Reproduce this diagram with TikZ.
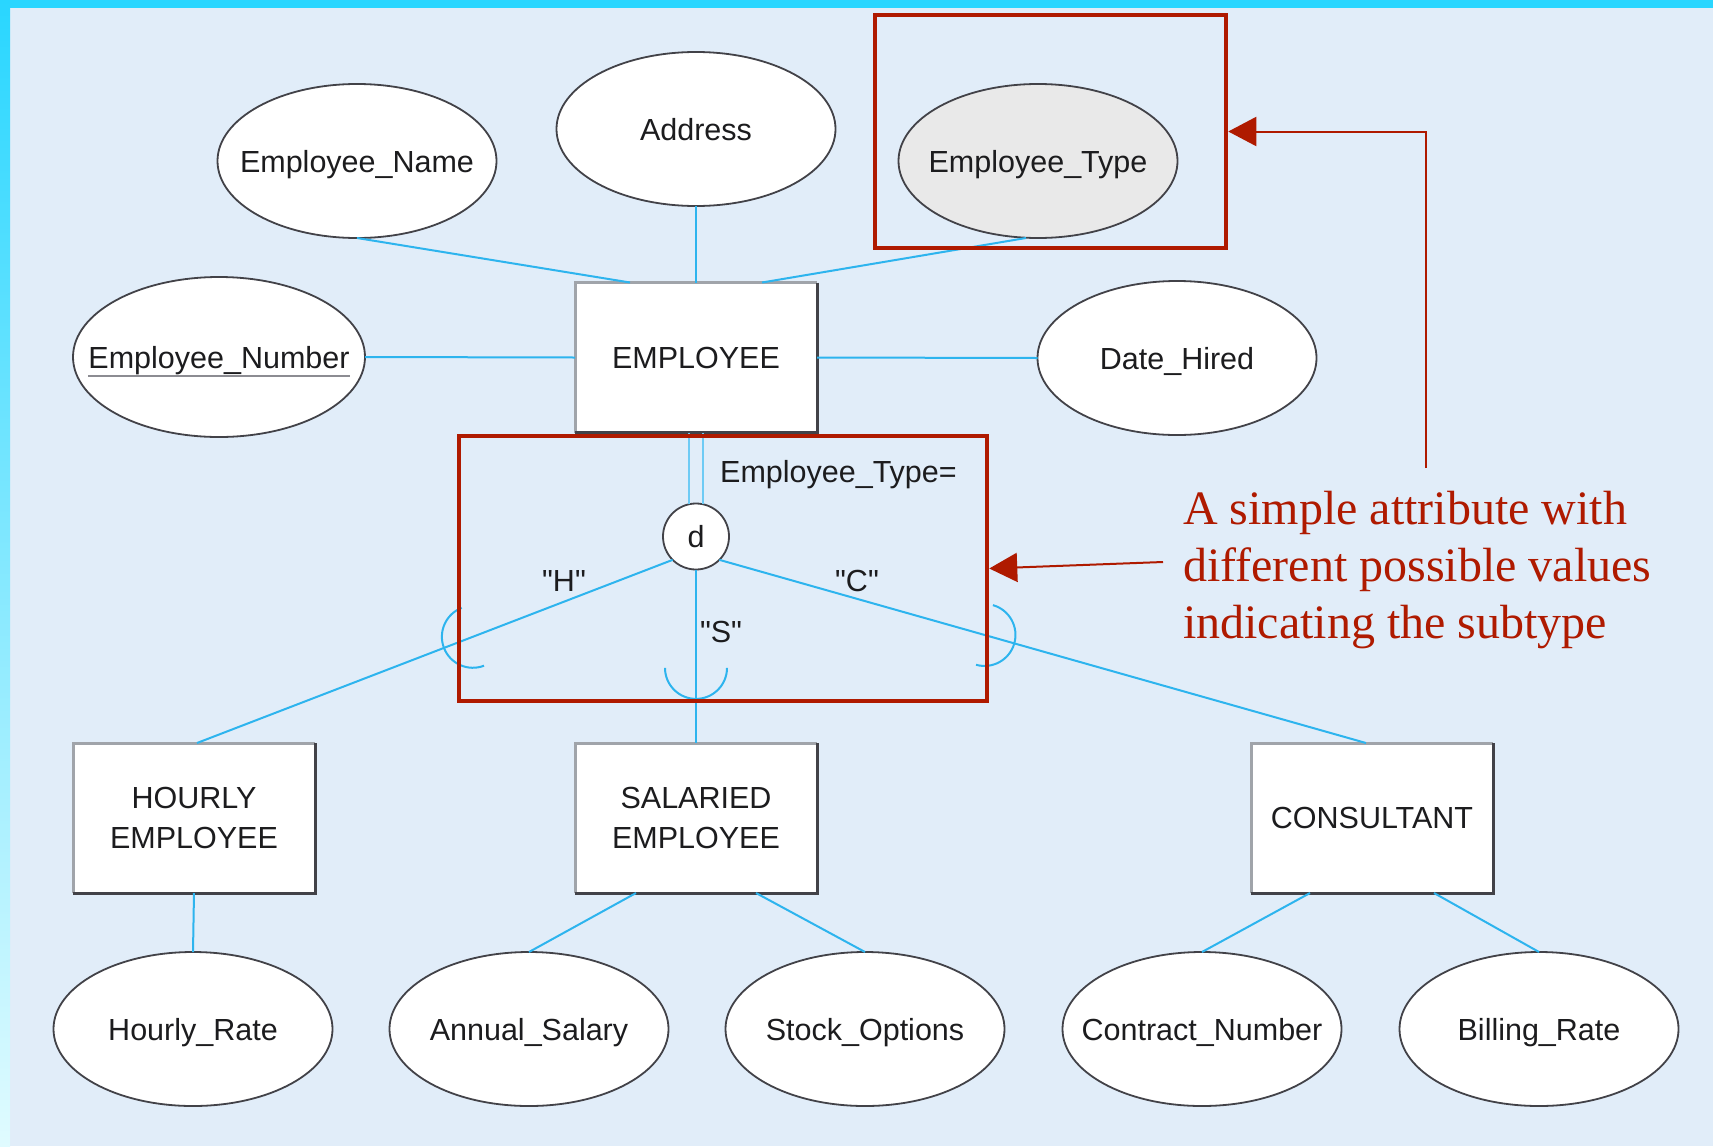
\documentclass[tikz,border=0pt]{standalone}
\usepackage{fontspec}
\setmainfont{Liberation Sans}
\newfontfamily\notefont{Liberation Serif}
\newfontfamily\plainquotes{Liberation Sans}[Ligatures=TeXOff]
\usetikzlibrary{arrows.meta,calc,shapes.geometric}

\definecolor{bgblue}{RGB}{225,237,249}
\definecolor{bandcyan}{RGB}{41,214,255}
\definecolor{bandmid}{RGB}{150,232,255}
\definecolor{bandpale}{RGB}{224,251,255}
\definecolor{linkblue}{RGB}{45,180,238}
\definecolor{linkpale}{RGB}{110,203,245}
\definecolor{hlred}{RGB}{175,26,0}
\definecolor{inkgray}{RGB}{28,28,30}
\definecolor{rimdark}{RGB}{66,66,72}
\definecolor{rimlight}{RGB}{160,164,170}
\definecolor{attrgray}{RGB}{233,233,233}
\definecolor{keyline}{RGB}{140,140,146}

\tikzset{
  attr/.style={ellipse, draw=rimdark, line width=1.8pt, fill=white,
    minimum width=279pt, minimum height=154pt, inner sep=0pt, outer sep=0pt},
  lbl/.style={font=\fontsize{30.5}{36}\selectfont, text=inkgray, inner sep=0pt, anchor=base},
  ent/.style={rectangle, fill=white, minimum width=242pt, minimum height=150pt,
    inner sep=0pt, outer sep=0pt, font=\fontsize{30.5}{40}\selectfont,
    text=inkgray, align=center},
  link/.style={draw=linkblue, line width=2pt},
  hlbox/.style={rectangle, draw=hlred, line width=4.5pt, inner sep=0pt},
  pointer/.style={draw=hlred, line width=2pt, -{Triangle[length=28pt,width=29pt]}},
  note/.style={font=\notefont\fontsize{48}{57}\selectfont, text=hlred,
    align=left, inner sep=0pt}
}

\begin{document}
\begin{tikzpicture}[x=1pt,y=-1pt]
\useasboundingbox (0,0) rectangle (1713,1146);

% page background with the cyan frame on top and left
\fill[bgblue] (0,0) rectangle (1713,1146);
\fill[bandcyan] (0,0) rectangle (1713,8);
\shade[top color=bandcyan, middle color=bandmid, bottom color=bandpale] (0,0) rectangle (10,1146);

% attributes
\node[attr] (ename) at (357,161) {};
\node[attr] (addr) at (696,129) {};
\node[attr, fill=attrgray] (etype) at (1038,161) {};
\node[attr, minimum width=292pt, minimum height=160pt] (enum) at (219,357) {};
\node[attr] (hired) at (1177,358) {};
\node[attr] (hrate) at (193,1029) {};
\node[attr] (asal) at (529,1029) {};
\node[attr] (stock) at (865,1029) {};
\node[attr] (cnum) at (1202,1029) {};
\node[attr] (brate) at (1539,1029) {};

\node[lbl] (enamel) at ([yshift=-11pt]ename.center) {Employee\_Name};
\node[lbl] (addrl) at ([yshift=-11pt]addr.center) {Address};
\node[lbl] (etypel) at ([yshift=-11pt]etype.center) {Employee\_Type};
\node[lbl] (enuml) at ([yshift=-11pt]enum.center) {Employee\_Number};
\node[lbl] (hiredl) at ([yshift=-11pt]hired.center) {Date\_Hired};
\node[lbl] (hratel) at ([yshift=-11pt]hrate.center) {Hourly\_Rate};
\node[lbl] (asall) at ([yshift=-11pt]asal.center) {Annual\_Salary};
\node[lbl] (stockl) at ([yshift=-11pt]stock.center) {Stock\_Options};
\node[lbl] (cnuml) at ([yshift=-11pt]cnum.center) {Contract\_Number};
\node[lbl] (bratel) at ([yshift=-11pt]brate.center) {Billing\_Rate};
% identifier underline
\draw[keyline, line width=2pt] ([yshift=-8pt]enuml.base west) -- ([yshift=-8pt]enuml.base east);

% entities
\node[ent] (emp) at (696,357.5) {EMPLOYEE};
\node[ent] (hourly) at (194,818) {HOURLY\\EMPLOYEE};
\node[ent] (salaried) at (696,818) {SALARIED\\EMPLOYEE};
\node[ent] (consult) at (1372,818) {CONSULTANT};
\foreach \n in {emp,hourly,salaried,consult}{
  \draw[rimlight, line width=3pt] (\n.south west) -- (\n.north west) -- (\n.north east);
  \draw[rimdark, line width=3pt] (\n.north east) -- (\n.south east) -- (\n.south west);
}

% disjointness circle
\node[circle, draw=rimdark, line width=1.8pt, fill=white, minimum size=66pt,
  inner sep=0pt, outer sep=0pt, font=\fontsize{30.5}{36}\selectfont, text=inkgray] (d) at (696,536.5) {d};

% attribute links
\draw[link] (ename.south) -- ([xshift=-66pt]emp.north);
\draw[link] (addr.south) -- (emp.north);
\draw[link] ([xshift=-12pt]etype.south) -- ([xshift=66pt]emp.north);
\draw[link] (enum.east) -- (emp.west);
\draw[link] (emp.east) -- (hired.west);
\draw[link] (hourly.south) -- (hrate.north);
\draw[link] ([xshift=-60pt]salaried.south) -- (asal.north);
\draw[link] ([xshift=60pt]salaried.south) -- (stock.north);
\draw[link] ([xshift=-62pt]consult.south) -- (cnum.north);
\draw[link] ([xshift=62pt]consult.south) -- (brate.north);

% total specialization (double line) and subtype links
\draw[link, draw=linkpale] ([xshift=-7pt]emp.south) -- ([xshift=-7pt]d.north);
\draw[link, draw=linkpale] ([xshift=7pt]emp.south) -- ([xshift=7pt]d.north);
\draw[link] (d.225) -- ([xshift=3pt]hourly.north);
\draw[link] (d.south) -- (salaried.north);
\draw[link] (d.-45) -- ([xshift=-6pt]consult.north);

% subset symbols
\coordinate (harc) at ($(d.225)!0.42!([xshift=3pt]hourly.north)$);
\coordinate (sarc) at ($(d.south)!0.567!(salaried.north)$);
\coordinate (carc) at ($(d.-45)!0.41!([xshift=-6pt]consult.north)$);
\draw[link] (harc) ++(248.9:31) arc[start angle=248.9, end angle=68.9, radius=31];
\draw[link] (sarc) ++(180:31) arc[start angle=180, end angle=0, radius=31];
\draw[link] (carc) ++(105.8:31) arc[start angle=105.8, end angle=-74.2, radius=31];

% subtype discriminator labels
\node[lbl, anchor=base west] (disc) at (720,482) {Employee\_Type=};
\node[lbl, font=\plainquotes\fontsize{30.5}{36}\selectfont] (hval) at (564,591) {"H"};
\node[lbl, font=\plainquotes\fontsize{30.5}{36}\selectfont] (sval) at (721,642) {"S"};
\node[lbl, font=\plainquotes\fontsize{30.5}{36}\selectfont] (cval) at (857,591) {"C"};

% highlight boxes and the note
\node[hlbox, minimum width=351pt, minimum height=233pt] (box1) at (1050.5,131.5) {};
\node[hlbox, minimum width=528pt, minimum height=265pt] (box2) at (723,568.5) {};
\node[note, anchor=base west] (note) at (1183,638)
  {A simple attribute with\\different possible values\\indicating the subtype};
\coordinate (p1) at (1426,468);
\coordinate (p2) at (1163,562);
\draw[pointer] (p1) |- (box1.east);
\draw[pointer] (p2) -- (box2.east);
\end{tikzpicture}
\end{document}
